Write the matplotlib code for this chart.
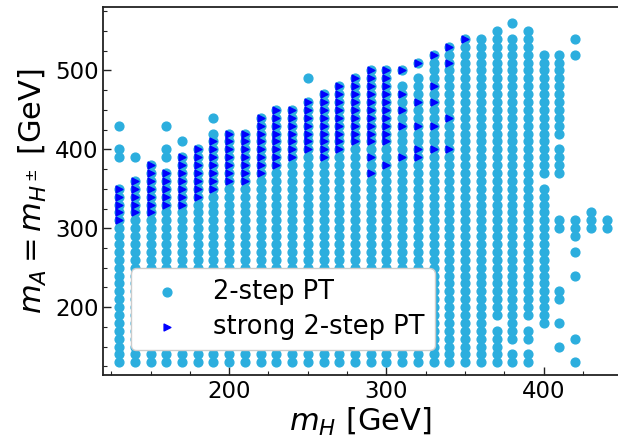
import matplotlib
matplotlib.use('Agg')
import matplotlib.pyplot as plt
import numpy as np
from matplotlib.ticker import MultipleLocator

# ## Scan data: for every m_H column, runs of m_A grid values (10 GeV steps)

m_H = [130, 140, 150, 160, 170, 180, 190, 200, 210, 220, 230, 240, 250, 260,
       270, 280, 290, 300, 310, 320, 330, 340, 350, 360, 370, 380, 390, 400,
       410, 420, 430, 440]

two_step_runs = [
    [(130, 350), (390, 400), (430, 430)],
    [(130, 360), (390, 390)],
    [(130, 380)],
    [(130, 370), (390, 400), (430, 430)],
    [(130, 390), (410, 410)],
    [(130, 400)],
    [(130, 420), (440, 440)],
    [(130, 420)],
    [(130, 420)],
    [(130, 440)],
    [(130, 450)],
    [(130, 450)],
    [(130, 460), (490, 490)],
    [(130, 470)],
    [(130, 480)],
    [(130, 490)],
    [(130, 500)],
    [(130, 500)],
    [(130, 480), (500, 500)],
    [(130, 490), (510, 510)],
    [(130, 520)],
    [(130, 530)],
    [(130, 540)],
    [(130, 540)],
    [(130, 170), (190, 550)],
    [(130, 140), (160, 540), (560, 560)],
    [(130, 140), (160, 170), (190, 550)],
    [(180, 350), (370, 520)],
    [(150, 150), (180, 180), (210, 220), (300, 310), (370, 400), (420, 520)],
    [(130, 130), (160, 160), (240, 240), (270, 270), (290, 310), (520, 520), (540, 540)],
    [(300, 320)],
    [(300, 310)],
]

strong_runs = [
    [(310, 350)],
    [(320, 360)],
    [(320, 380)],
    [(330, 370)],
    [(330, 390)],
    [(340, 400)],
    [(350, 410)],
    [(360, 420)],
    [(360, 420)],
    [(370, 440)],
    [(380, 450)],
    [(390, 450)],
    [(400, 460)],
    [(390, 470)],
    [(400, 480)],
    [(410, 490)],
    [(410, 500), (390, 390), (370, 370)],
    [(410, 500), (380, 380)],
    [(500, 500), (470, 470), (450, 450), (430, 430), (390, 390)],
    [(510, 510), (460, 460), (430, 430), (400, 400), (390, 390)],
    [(520, 520), (480, 480), (460, 460), (430, 430), (400, 400)],
    [(530, 530), (510, 510), (440, 440), (400, 400)],
    [(540, 540)],
    [], [], [], [], [], [], [], [], [],
]

x_ticks = [200, 300, 400]
y_ticks = [200, 300, 400, 500]


def expand(runs_list):
    xs, ys = [], []
    for mh, runs in zip(m_H, runs_list):
        for lo, hi in runs:
            vals = np.arange(lo, hi + 1, 10)
            xs.extend([mh] * len(vals))
            ys.extend(vals)
    return np.array(xs), np.array(ys)


x2, y2 = expand(two_step_runs)
xs, ys = expand(strong_runs)

# ## Plot

fig = plt.figure(figsize=(6.18, 4.45), dpi=100)
ax = fig.add_axes([0.1672, 0.1573, 0.8328, 0.8263])

ax.scatter(x2, y2, s=40, color='#2CAEDE', label='2-step PT', zorder=2)
ax.scatter(xs, ys, s=24, marker='>', color='#0000FF', label='strong 2-step PT', zorder=3)

ax.set_xlim(120, 447.2)
ax.set_ylim(114, 580)
ax.set_xticks(x_ticks)
ax.set_yticks(y_ticks)
ax.xaxis.set_minor_locator(MultipleLocator(25))
ax.yaxis.set_minor_locator(MultipleLocator(25))
ax.tick_params(which='both', direction='in', labelsize=16.5, color='#222222')
ax.tick_params(which='major', length=5.5, width=1)
ax.tick_params(which='minor', length=3, width=0.8)
ax.spines['right'].set_visible(False)
for sp in ['left', 'bottom', 'top']:
    ax.spines[sp].set_linewidth(1.3)
    ax.spines[sp].set_color('#222222')

ax.set_xlabel('$m_H$ [GeV]', fontsize=22, labelpad=2)
ax.set_ylabel('$m_A = m_{H^\\pm}$ [GeV]', fontsize=22, labelpad=4)

ax.legend(loc='lower left', bbox_to_anchor=(0.053, 0.068), borderaxespad=0,
          fontsize=18.5, labelspacing=0.35, framealpha=1, edgecolor='#cccccc')

fig.savefig('out.png', dpi=100)
